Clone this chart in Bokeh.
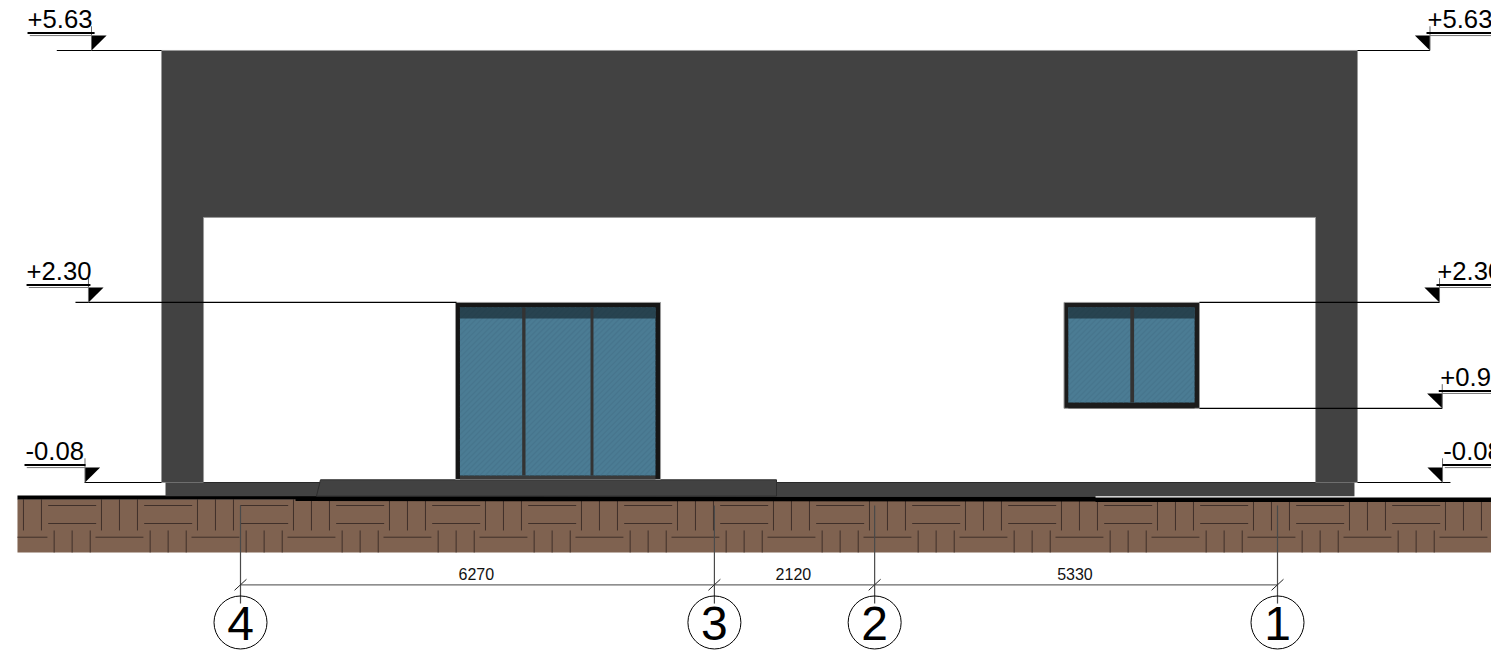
import numpy as np
from bokeh.plotting import figure
from bokeh.core.properties import value
from bokeh.embed import file_html
from bokeh.resources import INLINE

# Drawing data, in metres (origin: grid axis 4, level 0.00)
LEVEL_LABELS_LEFT = ["+5.63", "+2.30", "-0.08"]
LEVELS_LEFT = [5.63, 2.30, -0.08]
LEVEL_LABELS_RIGHT = ["+5.63", "+2.30", "+0.9", "-0.08"]
LEVELS_RIGHT = [5.63, 2.30, 0.90, -0.08]
GRID_NAMES = ["4", "3", "2", "1"]
GRID_SPANS_MM = [6270, 2120, 5330]

TOP, DOOR_HEAD, SILL, FLOOR = 5.63, 2.30, 0.90, -0.08
GRID_X = np.concatenate([[0], np.cumsum(GRID_SPANS_MM)]) / 1000.0 * 13.717 / 13.72
PX = 1 / 75.6

DARK = "#424242"
EDGE = "#9a9a9a"
GLASS = "#4b7c94"

p = figure(width=1491, height=653, output_backend="svg", toolbar_location=None,
           x_range=(-3.1746, 16.5476), y_range=(-2.340, 6.2906),
           min_border=0, background_fill_color="white", border_fill_color="white")
p.axis.visible = False
p.grid.visible = False
p.outline_line_color = None

# ground with parquet-style hatch
p.quad(left=[-2.95], right=[17.0], bottom=[-1.005], top=[-0.30],
       fill_color="#7f6250", line_color=None)
P = 96 * PX
n = np.arange(-1, 15)
ox = -2.544 + n * P
hx0, hx1, hy0, hy1 = [], [], [], []
vx0, vy0, vy1 = [], [], []
for x in ox:
    for y in (-0.384, -0.622):
        hx0.append(x); hx1.append(x + 0.635); hy0.append(y); hy1.append(y)
    for off in (0.705, 0.943, 1.181):
        vx0.append(x + off); vy0.append(-0.305); vy1.append(-0.714)
    hx0.append(x + 0.626); hx1.append(x + 1.26); hy0.append(-0.803); hy1.append(-0.803)
    for off in (0.079, 0.317, 0.556):
        vx0.append(x + off); vy0.append(-0.714); vy1.append(-1.005)
hx0 = np.clip(hx0, -2.95, 17); hx1 = np.clip(hx1, -2.95, 17)
keep = np.array(vx0) > -2.95
p.segment(hx0, hy0, hx1, hy1, line_color="#40302a", line_width=1)
p.segment(np.array(vx0)[keep], np.array(vy0)[keep], np.array(vx0)[keep], np.array(vy1)[keep],
          line_color="#40302a", line_width=1)

# black ground line
p.patch([-2.95, 0.728, 0.728, 11.31, 11.31, 17, 17, 11.31, 11.31, 0.728, 0.728, -2.95],
        [-0.252, -0.252, -0.258, -0.262, -0.278, -0.278, -0.338, -0.338, -0.330, -0.325, -0.305, -0.305],
        fill_color="black", line_color=None)

# walls, roof band, plinth, step
p.patch([-1.045, 14.775, 14.775, 14.22, 14.22, -0.489, -0.489, -1.045],
        [TOP, TOP, FLOOR, FLOOR, 3.423, 3.423, FLOOR, FLOOR],
        fill_color=DARK, line_color=EDGE, line_width=1)
p.quad(left=[-0.992], right=[14.735], top=[FLOOR], bottom=[-0.26],
       fill_color=DARK, line_color=None)
p.segment([-0.489], [FLOOR], [14.22], [FLOOR], line_color="#2a2a2a", line_width=1)
p.patch([1.005, 1.058, 7.09, 7.09], [-0.26, -0.044, -0.044, -0.26],
        fill_color=DARK, line_color="#2e2e2e", line_width=1)


def diagonal_hatch(x0, x1, y0, y1, step):
    xa, ya, xb, yb = [], [], [], []
    for c in np.arange(y0 - (x1 - x0), y1, step):
        # y = c + (x - x0)
        sx = x0 if c >= y0 else x0 + (y0 - c)
        sy = c if c >= y0 else y0
        ex = x1 if c + (x1 - x0) <= y1 else x0 + (y1 - c)
        ey = min(c + (x1 - x0), y1)
        if ex > sx:
            xa.append(sx); ya.append(sy); xb.append(ex); yb.append(ey)
    p.segment(xa, ya, xb, yb, line_color="#436f87", line_width=1.2, line_alpha=0.5)


def window(x0, x1, y0, y1, gx0, gx1, gy0, gy1, band, mullions, frame, sill_color):
    p.quad(left=[x0], right=[x1], top=[y1], bottom=[y0], fill_color=frame, line_color=EDGE, line_width=1)
    p.quad(left=[gx0], right=[gx1], top=[gy0], bottom=[y0], fill_color=sill_color, line_color=None)
    p.quad(left=[gx0], right=[gx1], top=[gy1], bottom=[gy0], fill_color=GLASS, line_color=None)
    diagonal_hatch(gx0, gx1, gy0, gy1, 5.5 * PX)
    p.quad(left=[gx0], right=[gx1], top=[gy1], bottom=[band], fill_color="#1b2e36", fill_alpha=0.72, line_color=None)
    for a, b in mullions:
        p.quad(left=[a], right=[b], top=[gy1], bottom=[gy0], fill_color="#333333", line_color=None)


window(2.844, 5.556, -0.04, DOOR_HEAD, 2.903, 5.489, 0.0125, 2.233, 2.088,
       [(3.726, 3.77), (4.63, 4.669)], "#161616", "#3a3a3a")
window(10.893, 12.685, SILL, DOOR_HEAD, 10.95, 12.62, 0.977, 2.233, 2.088,
       [(11.77, 11.82)], "#1c1c1c", "#1c1c1c")


# level marks
def level_mark(label, y, side, tx, lead0, lead1, text_x, ul0, ul1):
    p.segment([lead0], [y], [lead1], [y], line_color="black", line_width=1.2)
    d = 0.2 if side == "left" else -0.2
    p.patch([tx, tx, tx + d], [y, y + 0.198, y + 0.198], fill_color="black", line_color=None)
    p.segment([tx], [y], [tx], [y + 0.32], line_color="#6a6a6a", line_width=1)
    p.segment([ul0], [y + 0.231], [ul1], [y + 0.231], line_color="black", line_width=2)
    p.segment([ul0 + 0.03], [y + 0.197], [ul1], [y + 0.197], line_color="#777777", line_width=1)
    p.text([text_x], [y + 0.41], text=[label], text_font=value("Liberation Sans"),
           text_font_size="25.7px", text_color="black", text_baseline="middle", text_align="left")


left_geo = [(-1.971, -2.43, -1.045, -2.817, -2.817, -1.93),
            (-2.011, -2.183, 2.857, -2.83, -2.83, -1.985),
            (-2.057, -2.063, -1.045, -2.844, -2.857, -2.05)]
right_geo = [(15.734, 14.775, 15.734, 15.70, 15.688, 17),
             (15.86, 12.685, 15.86, 15.83, 15.82, 17),
             (15.896, 12.685, 15.896, 15.87, 15.85, 17),
             (15.90, 14.775, 16.005, 15.91, 15.90, 17)]
for lab, y, g in zip(LEVEL_LABELS_LEFT, LEVELS_LEFT, left_geo):
    level_mark(lab, y, "left", *g)
for lab, y, g in zip(LEVEL_LABELS_RIGHT, LEVELS_RIGHT, right_geo):
    level_mark(lab, y, "right", *g)

# grid axes and dimension line
GTOP, DIM_Y, BUB_Y = -0.384, -1.432, -1.93
p.segment(GRID_X, [GTOP] * 4, GRID_X, [-1.68] * 4, line_color="#4a4a4a", line_width=1.2)
p.segment([GRID_X[0]], [DIM_Y], [GRID_X[-1]], [DIM_Y], line_color="#6a6a6a", line_width=1.2)
p.segment(GRID_X - 0.079, [DIM_Y - 0.073] * 4, GRID_X + 0.079, [DIM_Y + 0.073] * 4,
          line_color="#222222", line_width=1)
p.scatter(GRID_X, [BUB_Y] * 4, size=53, marker="circle", fill_color=None, line_color="black", line_width=1)
p.text(GRID_X, [BUB_Y - 0.013] * 4, text=GRID_NAMES, text_font=value("Liberation Sans"), text_font_size="48px",
       text_color="black", text_align="center", text_baseline="middle")
mid = (GRID_X[:-1] + GRID_X[1:]) / 2
p.text(mid - 0.015, [DIM_Y + 0.14] * 3, text=[str(s) for s in GRID_SPANS_MM], text_font=value("Liberation Sans"),
       text_font_size="16px", text_color="#111111", text_align="center", text_baseline="middle")

open("out.html", "w").write(file_html(p, INLINE))
